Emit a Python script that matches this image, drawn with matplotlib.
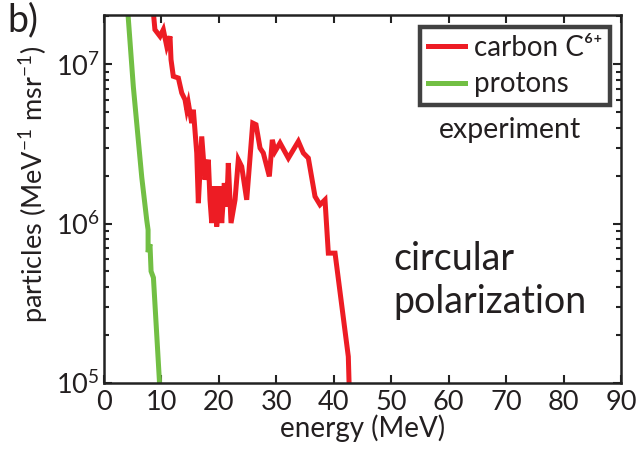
import numpy as np
import matplotlib
matplotlib.use("Agg")
import matplotlib.pyplot as plt
from matplotlib.ticker import LogLocator, FixedLocator, NullFormatter

plt.rcParams['font.family'] = ['Lato', 'DejaVu Sans']
plt.rcParams['mathtext.default'] = 'regular'

# Data (energy in MeV, log10 of particles per MeV per msr)
carbon_E = [8.58, 8.86, 9.75, 10.32, 10.92, 11.49, 11.66, 12.06, 12.94, 13.53, 14.10,
            14.40, 14.68, 15.27, 15.55, 16.14, 16.42, 17.01, 17.58, 18.16, 18.45,
            18.75, 19.20, 19.62, 20.07, 20.49, 20.94, 21.36, 21.64, 22.11, 22.81,
            23.38, 23.97, 24.84, 25.89, 26.46, 27.16, 27.73, 28.78, 29.30, 29.77,
            30.64, 32.09, 33.83, 34.70, 35.57, 36.73, 37.60, 38.47, 39.05, 40.22,
            42.53, 42.70]
carbon_logN = [7.33, 7.218, 7.176, 7.218, 7.113, 7.176, 7.030, 6.925, 6.914, 6.820, 6.778,
               6.715, 6.757, 6.631, 6.715, 6.443, 6.128, 6.547, 6.275, 6.401, 6.149,
               6.003, 6.233, 5.981, 6.233, 6.003, 6.254, 6.107, 6.380, 6.003, 6.149,
               6.401, 6.358, 6.149, 6.631, 6.621, 6.474, 6.443, 6.296, 6.526, 6.453,
               6.506, 6.411, 6.516, 6.443, 6.411, 6.170, 6.118, 6.149, 5.814, 5.814,
               5.164, 4.95]
proton_E = [4.1, 5.1, 6.57, 7.44, 7.67, 7.67, 8.0, 8.19, 8.6, 9.63, 9.7]
proton_logN = [7.35, 6.86, 6.29, 6.02, 5.96, 5.82, 5.87, 5.70, 5.66, 5.02, 4.95]

xticks = [0, 10, 20, 30, 40, 50, 60, 70, 80, 90]
yticks = [1e5, 1e6, 1e7]
ytick_labels = ['10$^{5}$', '10$^{6}$', '10$^{7}$']

red = '#ED1C24'
green = '#72BF44'
txt = '#231F20'

fig = plt.figure(figsize=(6.39, 4.54), dpi=100)
ax = fig.add_axes([0.1628, 0.157, 0.809, 0.810])

ax.plot(carbon_E, 10**np.array(carbon_logN), color=red, lw=3.6,
        solid_joinstyle='miter', label='carbon C\u2076\u207a')
ax.plot(proton_E, 10**np.array(proton_logN), color=green, lw=3.6,
        solid_joinstyle='miter', label='protons')

ax.set_yscale('log')
ax.set_xlim(0, 90)
ax.set_ylim(1e5, 10**7.31)
ax.set_xticks(xticks)
ax.set_xticklabels([str(v) for v in xticks])
ax.yaxis.set_major_locator(FixedLocator(yticks))
ax.set_yticklabels(ytick_labels)
ax.yaxis.set_minor_locator(LogLocator(base=10, subs=np.arange(2, 10)))
ax.yaxis.set_minor_formatter(NullFormatter())

ax.tick_params(which='both', direction='in', top=True, right=True,
               colors='#222222', labelcolor=txt, width=1.5)
ax.tick_params(which='major', length=6, labelsize=19.5)
ax.tick_params(axis='x', which='major', pad=5)
ax.tick_params(axis='y', which='major', pad=3)
ax.tick_params(which='minor', length=3.5)
for s in ax.spines.values():
    s.set_linewidth(1.8)
    s.set_color('#222222')

ax.set_xlabel('energy (MeV)', fontsize=20, color=txt, labelpad=0)
ax.set_ylabel('particles (MeV$^{-1}$ msr$^{-1}$)', fontsize=19.5, color=txt)
ax.yaxis.set_label_coords(-0.104, 0.54)

leg = ax.legend(loc='upper right', bbox_to_anchor=(0.9787, 0.967), fontsize=20,
                frameon=True, fancybox=False, handlelength=1.35, handletextpad=0.3,
                borderpad=0.28, labelspacing=0.38, borderaxespad=0)
leg.get_frame().set_edgecolor('#111111')
leg.get_frame().set_linewidth(3.2)
for t in leg.get_texts():
    t.set_color(txt)

ax.text(0.786, 0.687, 'experiment', transform=ax.transAxes, fontsize=20.5,
        color=txt, ha='center', va='center')
ax.text(0.559, 0.1705, 'circular\npolarization', transform=ax.transAxes,
        fontsize=27, color=txt, ha='left', va='bottom', linespacing=1.25)

fig.text(0.012, 0.955, 'b)', fontsize=27, color=txt, ha='left', va='center')

fig.savefig('out.png', dpi=100)
